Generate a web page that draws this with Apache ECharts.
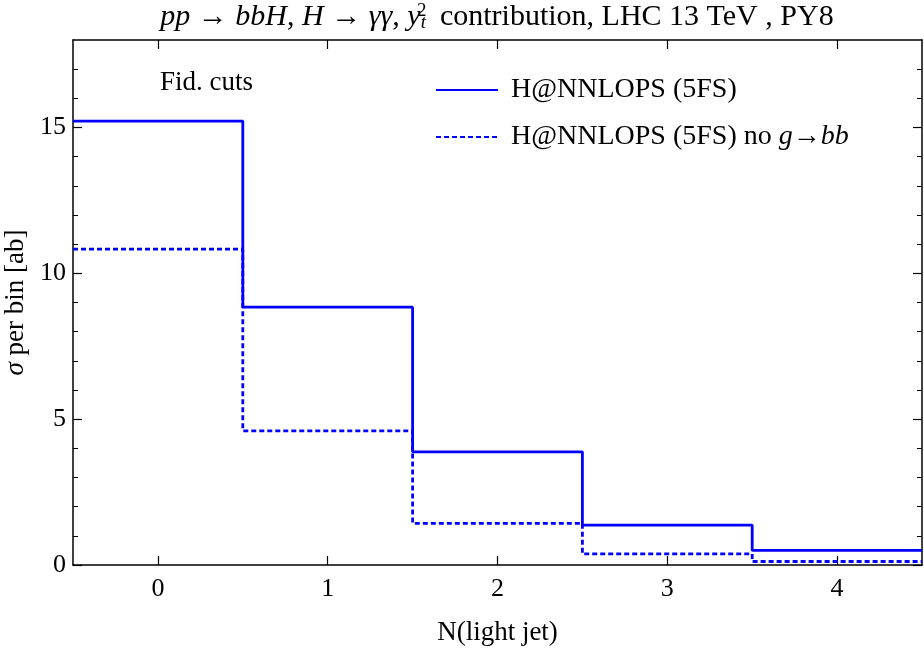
<!DOCTYPE html>
<html>
<head>
<meta charset="utf-8">
<script src="https://cdn.jsdelivr.net/npm/echarts@6/dist/echarts.min.js"></script>
<style>
  html, body { margin: 0; padding: 0; background: #fff; }
  #chart { width: 924px; height: 655px; }
</style>
</head>
<body>
<div id="chart"></div>
<script>
// bin edges of the N(light jet) histogram
const binEdges = [-0.5, 0.5, 1.5, 2.5, 3.5, 4.5];
const xTicks = [0, 1, 2, 3, 4];
const yTicks = [0, 5, 10, 15];

// sigma per bin [ab]
const nnlops5fs = [15.22, 8.84, 3.88, 1.37, 0.5];
const nnlops5fsNoGbb = [10.83, 4.6, 1.43, 0.38, 0.12];

const serif = "'Liberation Serif', 'DejaVu Serif', serif";
const blue = "#0000ff";

// step points: left edge of every bin, plus the final right edge
function stepPoints(values) {
  const pts = values.map((v, i) => [binEdges[i], v]);
  pts.push([binEdges[binEdges.length - 1], values[values.length - 1]]);
  return pts;
}

const chart = echarts.init(document.getElementById("chart"));

const axisCommon = {
  axisLine: { show: true, onZero: false, lineStyle: { color: "#000", width: 1.5 } },
  axisTick: { show: true, inside: true, length: 9, lineStyle: { color: "#000", width: 1.2 } },
  splitLine: { show: false }
};
const minor = { show: true, splitNumber: 5, length: 5, lineStyle: { color: "#000", width: 1 } };

chart.setOption({
  animation: false,
  title: {
    text: "{i|pp} → {i|bbH}, {i|H} → {i|γγ}, {i|y}{sub|t}{sup|2} contribution, LHC 13 TeV , PY8",
    left: 497,
    textAlign: "center",
    top: 2,
    padding: 0,
    textStyle: {
      fontFamily: serif,
      fontSize: 30,
      fontWeight: "normal",
      color: "#000",
      rich: {
        i: { fontFamily: serif, fontSize: 30, fontStyle: "italic", color: "#000" },
        sub: { fontFamily: serif, fontSize: 19, fontStyle: "italic", color: "#000", verticalAlign: "bottom", padding: [10, 0, 0, 0] },
        sup: { fontFamily: serif, fontSize: 19, color: "#000", verticalAlign: "top", padding: [0, 6, 10, -9] }
      }
    }
  },
  legend: {
    left: 435,
    top: 75,
    padding: 0,
    orient: "vertical",
    itemWidth: 62,
    itemHeight: 14,
    itemGap: 17,
    itemStyle: { opacity: 0 },
    textStyle: {
      fontFamily: serif,
      fontSize: 28,
      lineHeight: 30,
      color: "#000",
      padding: [0, 0, 0, 8],
      rich: {
        i: { fontFamily: serif, fontSize: 28, lineHeight: 30, fontStyle: "italic", color: "#000" }
      }
    },
    formatter: (name) => name === "nogbb" ? "H@NNLOPS (5FS) no {i|g}→{i|bb}" : "H@NNLOPS (5FS)",
    data: ["full", "nogbb"]
  },
  graphic: [{
    type: "text",
    left: 160,
    top: 69,
    style: { text: "Fid. cuts", font: "27px " + serif, fill: "#000" }
  }],
  grid: { left: 73, right: 2, top: 40, bottom: 90, outerBoundsMode: "none" },
  xAxis: [
    Object.assign({}, axisCommon, {
      type: "value",
      min: -0.5,
      max: 4.5,
      position: "bottom",
      name: "N(light jet)",
      nameLocation: "middle",
      nameGap: 54,
      nameTextStyle: { fontFamily: serif, fontSize: 27, color: "#000" },
      axisLabel: {
        fontFamily: serif, fontSize: 26, color: "#000", margin: 11,
        customValues: xTicks
      },
      axisTick: Object.assign({}, axisCommon.axisTick, { customValues: xTicks })
    }),
    Object.assign({}, axisCommon, {
      type: "value",
      min: -0.5,
      max: 4.5,
      position: "top",
      axisLabel: { show: false },
      axisTick: Object.assign({}, axisCommon.axisTick, { customValues: xTicks })
    })
  ],
  yAxis: [
    Object.assign({}, axisCommon, {
      type: "value",
      min: 0,
      max: 18,
      interval: 5,
      position: "left",
      name: "{i|σ} per bin [ab]",
      nameLocation: "middle",
      nameGap: 41,
      nameTextStyle: {
        fontFamily: serif, fontSize: 27, color: "#000",
        rich: { i: { fontFamily: serif, fontSize: 27, fontStyle: "italic", color: "#000" } }
      },
      axisLabel: { fontFamily: serif, fontSize: 26, color: "#000", margin: 7, customValues: yTicks },
      axisTick: Object.assign({}, axisCommon.axisTick, { customValues: yTicks }),
      minorTick: minor
    }),
    Object.assign({}, axisCommon, {
      type: "value",
      min: 0,
      max: 18,
      interval: 5,
      position: "right",
      axisLabel: { show: false },
      axisTick: Object.assign({}, axisCommon.axisTick, { customValues: yTicks }),
      minorTick: minor
    })
  ],
  series: [
    {
      name: "full",
      type: "line",
      step: "end",
      symbol: "none",
      data: stepPoints(nnlops5fs),
      lineStyle: { color: blue, width: 2.8 },
      itemStyle: { color: blue },
      z: 3
    },
    {
      name: "nogbb",
      type: "line",
      step: "end",
      symbol: "none",
      data: stepPoints(nnlops5fsNoGbb),
      lineStyle: { color: blue, width: 2.8, type: [5, 3] },
      itemStyle: { color: blue },
      z: 2
    }
  ]
});
</script>
</body>
</html>
